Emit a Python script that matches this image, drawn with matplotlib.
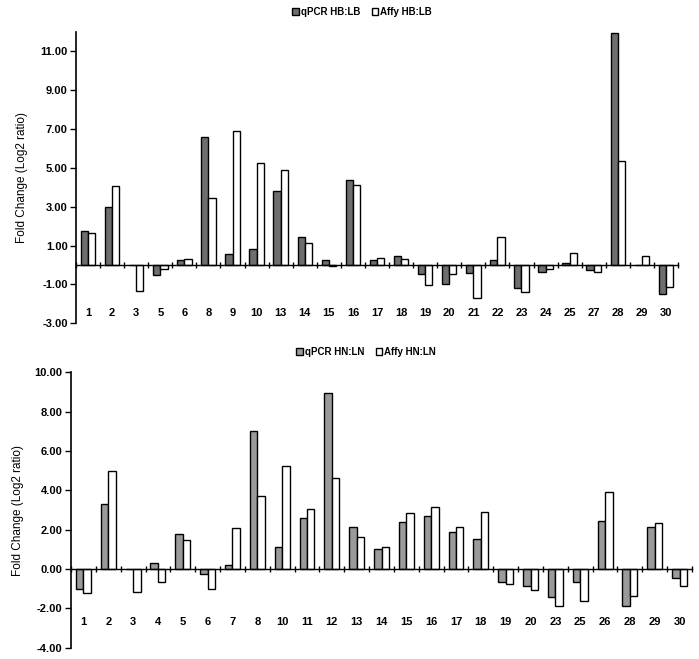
import matplotlib.pyplot as plt
import numpy as np

plt.rcParams['font.family'] = ['Liberation Sans', 'DejaVu Sans']

# ---- top panel: HB vs LB ----
top_labels = ['1', '2', '3', '5', '6', '8', '9', '10', '13', '14', '15', '16', '17',
              '18', '19', '20', '21', '22', '23', '24', '25', '27', '28', '29', '30']
top_qpcr = [1.77, 3.00, 0.00, -0.50, 0.26, 6.56, 0.57, 0.84, 3.81, 1.44, 0.26, 4.35, 0.26,
            0.46, -0.48, -0.98, -0.40, 0.26, -1.19, -0.36, 0.12, -0.27, 11.92, 0.02, -1.49]
top_affy = [1.63, 4.04, -1.32, -0.19, 0.29, 3.44, 6.87, 5.26, 4.88, 1.12, -0.07, 4.12, 0.34,
            0.29, -1.03, -0.46, -1.69, 1.46, -1.39, -0.19, 0.63, -0.35, 5.35, 0.48, -1.15]

# ---- bottom panel: HN vs LN ----
bot_labels = ['1', '2', '3', '4', '5', '6', '7', '8', '10', '11', '12', '13', '14',
              '15', '16', '17', '18', '19', '20', '23', '25', '26', '28', '29', '30']
bot_qpcr = [-1.02, 3.28, 0.00, 0.30, 1.76, -0.27, 0.19, 7.02, 1.13, 2.57, 8.93, 2.13, 1.02,
            2.39, 2.67, 1.90, 1.51, -0.66, -0.85, -1.44, -0.68, 2.45, -1.88, 2.13, -0.47]
bot_affy = [-1.24, 4.99, -1.15, -0.66, 1.46, -1.03, 2.08, 3.69, 5.25, 3.03, 4.62, 1.64, 1.13,
            2.83, 3.16, 2.15, 2.91, -0.78, -1.08, -1.88, -1.61, 3.89, -1.35, 2.34, -0.86]

W, H = 699, 659
fig = plt.figure(figsize=(W / 100, H / 100), dpi=100)


def panel(rect, labels, qpcr, affy, ylim, yticks, lab_y, qcol, names, leg_xy):
    ax = fig.add_axes(rect)
    x = np.arange(len(labels))
    bw = 0.3
    b1 = ax.bar(x - bw / 2, qpcr, bw, color=qcol, edgecolor='black', linewidth=1.0,
                label=names[0])
    b2 = ax.bar(x + bw / 2, affy, bw, color='white', edgecolor='black', linewidth=1.0,
                label=names[1])
    ax.set_xlim(-0.5, len(labels) - 0.5)
    ax.set_ylim(*ylim)
    ax.set_yticks(yticks)
    ax.set_yticklabels(['%.2f' % v for v in yticks], fontsize=8, fontweight='bold')
    for s in ['top', 'right']:
        ax.spines[s].set_visible(False)
    ax.spines['bottom'].set_position(('data', 0))
    ax.spines['bottom'].set_linewidth(1.0)
    ax.spines['left'].set_linewidth(1.2)
    ax.set_xticks(np.arange(len(labels) + 1) - 0.5)
    ax.set_xticklabels([])
    ax.tick_params(axis='x', direction='inout', length=4, width=1)
    ax.tick_params(axis='y', direction='out', length=4, width=1, pad=2)
    for xi, t in zip(x, labels):
        ax.text(xi, lab_y, t, ha='center', va='center', fontsize=8, fontweight='bold')
    ax.set_ylabel('Fold Change (Log2 ratio)', fontsize=8.5)
    fig.legend(handles=[b1, b2], loc='center', bbox_to_anchor=leg_xy, ncol=2,
               frameon=False, handlelength=0.7, handleheight=0.7,
               handletextpad=0.2, columnspacing=1.2, prop={'weight': 'bold', 'size': 7})
    return ax


ax1 = panel([76 / W, 1 - 323.3 / H, (678 - 76) / W, (323.3 - 31.7) / H],
            top_labels, top_qpcr, top_affy, (-3, 12), np.arange(-3, 12, 2), -2.47,
            '#6e6e6e', ['qPCR HB:LB', 'Affy HB:LB'], (362 / W, 1 - 12 / H))
ax1.yaxis.set_label_coords(-0.08, 0.5)

ax2 = panel([71 / W, 1 - 647.7 / H, (692 - 71) / W, (647.7 - 372.3) / H],
            bot_labels, bot_qpcr, bot_affy, (-4, 10), np.arange(-4, 11, 2), -2.67,
            '#9a9a9a', ['qPCR HN:LN', 'Affy HN:LN'], (366 / W, 1 - 352 / H))
ax2.yaxis.set_label_coords(-0.075, 0.5)

fig.savefig('out.png', dpi=100)
